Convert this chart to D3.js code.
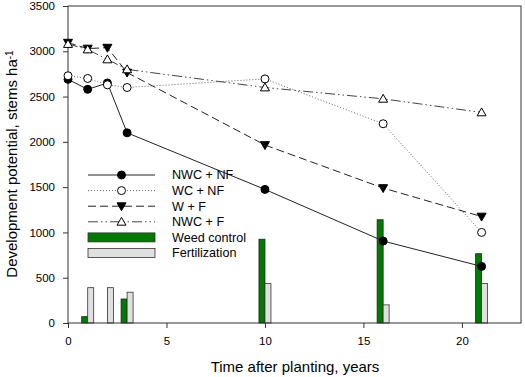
<!DOCTYPE html>
<html>
<head>
<meta charset="utf-8">
<script src="https://cdn.jsdelivr.net/npm/d3@7"></script>
<style>
body { margin: 0; background: #fff; }
svg text { font-family: "Liberation Sans", Arial, sans-serif; }
</style>
</head>
<body>
<svg id="chart" width="525" height="377"></svg>
<script>
'use strict';

const years = [0, 1, 2, 3, 10, 16, 21];
const nwcNf = [2690, 2580, 2650, 2100, 1475, 905, 625];
const wcNf = [2730, 2700, 2630, 2600, 2695, 2200, 1000];
const wF = [3095, 3030, 3040, 2765, 1965, 1490, 1175];
const nwcF = [3080, 3020, 2910, 2800, 2600, 2475, 2325];

const barYears = [1, 2, 3, 10, 16, 21];
const weedControl = [70, 0, 265, 925, 1140, 765];
const fertilization = [390, 390, 340, 435, 200, 435];

const xTicks = [0, 5, 10, 15, 20];
const yTicks = [0, 500, 1000, 1500, 2000, 2500, 3000, 3500];

const M = {left: 68, top: 6, right: 521, bottom: 323};

const svg = d3.select('#chart');
const x = d3.scaleLinear().domain([0, 23]).range([M.left, M.right]);
const y = d3.scaleLinear().domain([0, 3500]).range([M.bottom, M.top]);

// bars
const bw = 6;
const bars = svg.append('g');
barYears.forEach(function(yr, i) {
    if (weedControl[i] > 0) {
        bars.append('rect')
            .attr('x', x(yr) - bw).attr('y', y(weedControl[i]))
            .attr('width', bw).attr('height', y(0) - y(weedControl[i]))
            .attr('fill', '#007a00').attr('stroke', '#222').attr('stroke-width', 0.8);
    }
    bars.append('rect')
        .attr('x', x(yr)).attr('y', y(fertilization[i]))
        .attr('width', bw).attr('height', y(0) - y(fertilization[i]))
        .attr('fill', '#e0e0e0').attr('stroke', '#333').attr('stroke-width', 0.8);
});

// axes
const ax = svg.append('g').attr('transform', 'translate(0,' + M.bottom + ')')
    .call(d3.axisBottom(x).tickValues(xTicks).tickFormat(d3.format('d')).tickSize(5).tickPadding(8.5));
const ay = svg.append('g').attr('transform', 'translate(' + M.left + ',0)')
    .call(d3.axisLeft(y).tickValues(yTicks).tickFormat(d3.format('d')).tickSize(5).tickPadding(8));
[ax, ay].forEach(function(a) {
    a.select('.domain').remove();
    a.selectAll('text').attr('font-size', 11.5).attr('fill', '#000')
        .style('font-family', '"Liberation Sans", Arial, sans-serif');
    a.selectAll('line').attr('stroke', '#333');
});

// frame
svg.append('rect')
    .attr('x', M.left).attr('y', M.top)
    .attr('width', M.right - M.left).attr('height', M.bottom - M.top)
    .attr('fill', 'none').attr('stroke', '#333').attr('stroke-width', 1);

// series
const series = [
    {name: 'NWC + NF', values: nwcNf, dash: null, color: '#222', marker: 'circle', fill: '#000'},
    {name: 'WC + NF', values: wcNf, dash: '1,2', color: '#666', marker: 'circle', fill: '#fff'},
    {name: 'W + F', values: wF, dash: '8,4', color: '#222', marker: 'down', fill: '#000'},
    {name: 'NWC + F', values: nwcF, dash: '10,3,1.5,3,1.5,3', color: '#444', marker: 'up', fill: '#fff'}
];

function drawMarker(g, type, cx, cy, fill) {
    if (type === 'circle') {
        g.append('circle').attr('cx', cx).attr('cy', cy).attr('r', 4)
            .attr('fill', fill).attr('stroke', '#000').attr('stroke-width', 1);
    } else {
        const s = 4.5;
        const pts = type === 'up'
            ? [[cx, cy - s], [cx + s, cy + s * 0.75], [cx - s, cy + s * 0.75]]
            : [[cx, cy + s], [cx + s, cy - s * 0.75], [cx - s, cy - s * 0.75]];
        g.append('polygon').attr('points', pts.map(function(p) { return p.join(','); }).join(' '))
            .attr('fill', fill).attr('stroke', '#000').attr('stroke-width', 1);
    }
}

const line = d3.line().x(function(d) { return x(d[0]); }).y(function(d) { return y(d[1]); });
const lines = svg.append('g');
series.forEach(function(s) {
    lines.append('path')
        .attr('d', line(years.map(function(yr, i) { return [yr, s.values[i]]; })))
        .attr('fill', 'none').attr('stroke', s.color).attr('stroke-width', 1)
        .attr('stroke-dasharray', s.dash);
});
series.forEach(function(s) {
    years.forEach(function(yr, i) {
        drawMarker(lines, s.marker, x(yr), y(s.values[i]), s.fill);
    });
});

// legend
const lg = svg.append('g');
const lx0 = 88, lx1 = 155, tx = 172;
series.forEach(function(s, i) {
    const ly = 175 + i * 15.6;
    lg.append('line').attr('x1', lx0).attr('x2', lx1).attr('y1', ly).attr('y2', ly)
        .attr('stroke', s.color).attr('stroke-width', 1).attr('stroke-dasharray', s.dash);
    drawMarker(lg, s.marker, (lx0 + lx1) / 2, ly, s.fill);
    lg.append('text').attr('x', tx).attr('y', ly).attr('dy', '0.35em')
        .attr('font-size', 12.6).text(s.name);
});
[{name: 'Weed control', fill: '#007a00'}, {name: 'Fertilization', fill: '#e0e0e0'}].forEach(function(b, i) {
    const ly = 175 + (i + 4) * 15.6;
    lg.append('rect').attr('x', lx0).attr('y', ly - 4.5).attr('width', lx1 - lx0).attr('height', 9)
        .attr('fill', b.fill).attr('stroke', '#333').attr('stroke-width', 0.8);
    lg.append('text').attr('x', tx).attr('y', ly).attr('dy', '0.35em')
        .attr('font-size', 12.6).text(b.name);
});

// axis titles
svg.append('text').attr('x', 295).attr('y', 372)
    .attr('text-anchor', 'middle').attr('font-size', 15).text('Time after planting, years');
const yt = svg.append('text')
    .attr('transform', 'translate(17,164) rotate(-90)')
    .attr('text-anchor', 'middle').attr('font-size', 15);
yt.append('tspan').text('Development potential, stems ha');
yt.append('tspan').attr('dy', '-0.45em').attr('font-size', 10).text('-1');
</script>
</body>
</html>
